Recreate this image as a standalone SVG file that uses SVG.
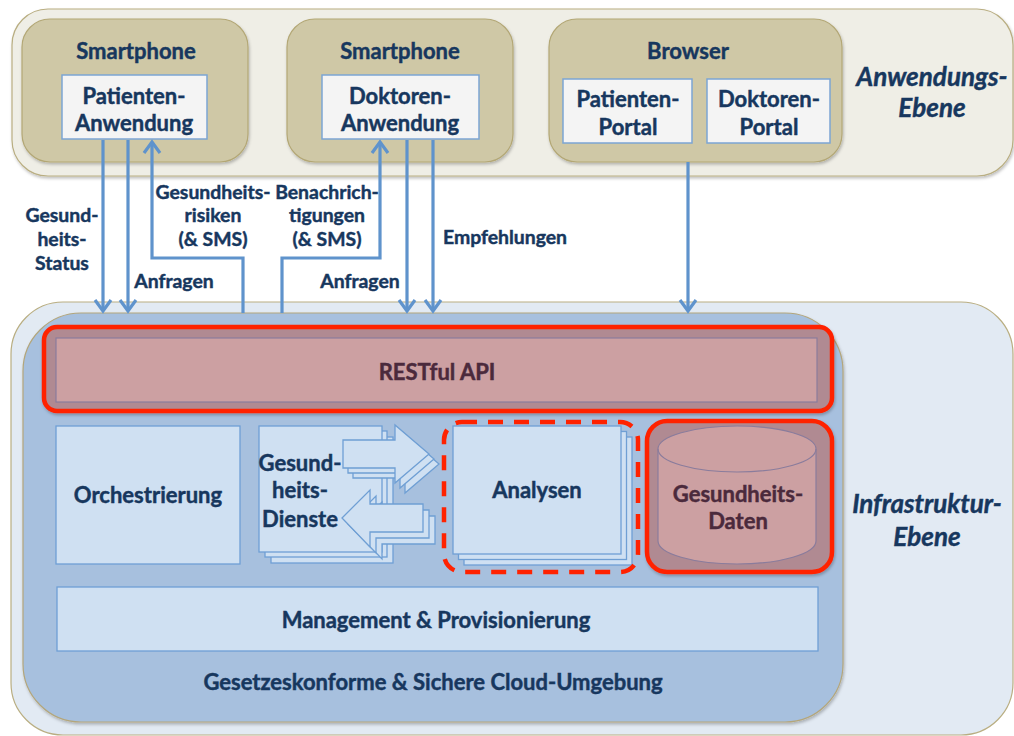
<svg xmlns="http://www.w3.org/2000/svg" width="1014" height="736" viewBox="0 0 1014 736">
  <defs>
    <style>
      .lbl { font-family: Lato, "Open Sans", "Liberation Sans", sans-serif; font-weight: 700; fill: #17375e; stroke: #17375e; stroke-width: 0.45px; text-anchor: middle; }
      .big { font-size: 22px; }
      .small { font-size: 19.4px; }
      .layer { font-size: 26px; font-style: italic; }
      .mauve { fill: #4b2a3c; stroke: #4b2a3c; }
      .panel-top { fill: #efeee6; stroke: #b9ae82; stroke-width: 1.2; }
      .device { fill: #cfc8a6; stroke: #b3a775; stroke-width: 1.2; }
      .app { fill: #f4f4f4; stroke: #7ca5d4; stroke-width: 1.5; }
      .panel-infra { fill: #e2eaf3; stroke: #b9ae82; stroke-width: 1.2; }
      .cloud { fill: #a7c0de; stroke: #b3a67c; stroke-width: 1.2; }
      .svc { fill: #cfe0f2; stroke: #6f9fd4; stroke-width: 1.3; }
      .redframe { fill: #b08a92; stroke: #ff2200; stroke-width: 4.5; }
      .redinner { fill: #cca0a2; stroke: #8a7c9c; stroke-width: 1.2; }
      .dash { fill: none; stroke: #ff2200; stroke-width: 4.5; stroke-dasharray: 15 11; }
      .conn { fill: none; stroke: #5f93cc; stroke-width: 3.2; }
    </style>
    <marker id="chev" markerUnits="userSpaceOnUse" viewBox="-14 -10 17 20" refX="0" refY="0" markerWidth="17" markerHeight="20" orient="auto">
      <path d="M-11,-8 L0,0 L-11,8" fill="none" stroke="#5f93cc" stroke-width="3.2"/>
    </marker>
    <filter id="shadow" x="-5%" y="-5%" width="110%" height="115%">
      <feDropShadow dx="1" dy="2" stdDeviation="1.8" flood-color="#000" flood-opacity="0.25"/>
    </filter>
  </defs>

  <!-- application layer -->
  <g id="anwendungs-ebene">
    <rect class="panel-top" x="12" y="9" width="1001" height="167" rx="36" filter="url(#shadow)"/>
    <text class="lbl layer" x="932" y="86">Anwendungs-</text>
    <text class="lbl layer" x="932" y="117">Ebene</text>
  </g>

  <g id="smartphone-patient">
    <rect class="device" x="22" y="19" width="226" height="143" rx="28" filter="url(#shadow)"/>
    <text class="lbl big" x="136" y="59">Smartphone</text>
  </g>
  <g id="patienten-anwendung">
    <rect class="app" x="62" y="75" width="145" height="64"/>
    <text class="lbl big" x="134" y="104">Patienten-</text>
    <text class="lbl big" x="134" y="131">Anwendung</text>
  </g>

  <g id="smartphone-doktor">
    <rect class="device" x="287" y="19" width="226" height="143" rx="28" filter="url(#shadow)"/>
    <text class="lbl big" x="400" y="59">Smartphone</text>
  </g>
  <g id="doktoren-anwendung">
    <rect class="app" x="322" y="75" width="157" height="64"/>
    <text class="lbl big" x="400" y="104">Doktoren-</text>
    <text class="lbl big" x="400" y="131">Anwendung</text>
  </g>

  <g id="browser">
    <rect class="device" x="549" y="19" width="293" height="143" rx="28" filter="url(#shadow)"/>
    <text class="lbl big" x="688" y="59">Browser</text>
  </g>
  <g id="patienten-portal">
    <rect class="app" x="563" y="79" width="129" height="64"/>
    <text class="lbl big" x="628" y="107">Patienten-</text>
    <text class="lbl big" x="628" y="135">Portal</text>
  </g>
  <g id="doktoren-portal">
    <rect class="app" x="707" y="79" width="123" height="64"/>
    <text class="lbl big" x="769" y="107">Doktoren-</text>
    <text class="lbl big" x="769" y="135">Portal</text>
  </g>

  <!-- infrastructure layer -->
  <g id="infrastruktur-ebene">
    <rect class="panel-infra" x="11" y="302" width="1002" height="433" rx="52"/>
    <text class="lbl layer" x="927" y="513">Infrastruktur-</text>
    <text class="lbl layer" x="927" y="546">Ebene</text>
  </g>

  <g id="cloud-umgebung">
    <rect class="cloud" x="23" y="313" width="820" height="409" rx="58" filter="url(#shadow)"/>
    <text class="lbl big" x="433" y="690">Gesetzeskonforme &amp; Sichere Cloud-Umgebung</text>
  </g>

  <g id="restful-api">
    <rect class="redframe" x="44" y="327" width="788" height="84" rx="13" filter="url(#shadow)"/>
    <rect class="redinner" x="56" y="338" width="761" height="64"/>
    <text class="lbl big mauve" x="437" y="380">RESTful API</text>
  </g>

  <g id="orchestrierung">
    <rect class="svc" x="56" y="426" width="184" height="138"/>
    <text class="lbl big" x="148" y="503">Orchestrierung</text>
  </g>

  <g id="gesundheits-dienste">
    <rect class="svc" x="271" y="437" width="122" height="126"/>
    <rect class="svc" x="265" y="431" width="122" height="126"/>
    <rect class="svc" x="259" y="426" width="123" height="126"/>
    <!-- outgoing arrow, stacked -->
    <polygon class="svc" transform="translate(10,10)" points="343,440 395,440 395,425 429,454 395,483 395,468 343,468"/>
    <polygon class="svc" transform="translate(5,5)" points="343,440 395,440 395,425 429,454 395,483 395,468 343,468"/>
    <polygon class="svc" points="343,440 395,440 395,425 429,454 395,483 395,468 343,468"/>
    <!-- incoming arrow, stacked -->
    <polygon class="svc" transform="translate(12,12)" points="342,518 370,490 370,504 423,504 423,532 370,532 370,547"/>
    <polygon class="svc" transform="translate(6,6)" points="342,518 370,490 370,504 423,504 423,532 370,532 370,547"/>
    <polygon class="svc" points="342,518 370,490 370,504 423,504 423,532 370,532 370,547"/>
    <text class="lbl big" x="300" y="471">Gesund-</text>
    <text class="lbl big" x="300" y="498">heits-</text>
    <text class="lbl big" x="300" y="527">Dienste</text>
  </g>

  <g id="analysen">
    <rect class="svc" x="464" y="437" width="168" height="128"/>
    <rect class="svc" x="458.5" y="431.5" width="168" height="128"/>
    <rect class="svc" x="453" y="426" width="168" height="128"/>
    <text class="lbl big" x="537" y="498">Analysen</text>
    <rect class="dash" x="444" y="422" width="194" height="150" rx="18"/>
  </g>

  <g id="gesundheits-daten">
    <rect class="redframe" x="647" y="421" width="185" height="151" rx="20" filter="url(#shadow)"/>
    <path class="redinner" d="M658,449 L658,541 A79,23 0 0 0 816,541 L816,449 A79,23 0 0 0 658,449 Z"/>
    <path d="M658,449 A79,23 0 0 0 816,449" fill="none" stroke="#8a7c9c" stroke-width="1.2"/>
    <text class="lbl big mauve" x="738" y="502">Gesundheits-</text>
    <text class="lbl big mauve" x="738" y="529">Daten</text>
  </g>

  <g id="management">
    <rect class="svc" x="57" y="587" width="761" height="64"/>
    <text class="lbl big" x="436" y="628">Management &amp; Provisionierung</text>
  </g>

  <!-- connectors between the two layers -->
  <g id="connectors">
    <path class="conn" d="M103,140 L103,311" marker-end="url(#chev)"/>
    <path class="conn" d="M128,140 L128,311" marker-end="url(#chev)"/>
    <path class="conn" d="M243,313 L243,258 L152,258 L152,142" marker-end="url(#chev)"/>
    <path class="conn" d="M282,313 L282,258 L380,258 L380,142" marker-end="url(#chev)"/>
    <path class="conn" d="M407,140 L407,311" marker-end="url(#chev)"/>
    <path class="conn" d="M433,140 L433,311" marker-end="url(#chev)"/>
    <path class="conn" d="M688,162 L688,311" marker-end="url(#chev)"/>

    <text class="lbl small" x="62" y="222">Gesund-</text>
    <text class="lbl small" x="62" y="246">heits-</text>
    <text class="lbl small" x="62" y="270">Status</text>
    <text class="lbl small" x="174" y="288">Anfragen</text>
    <text class="lbl small" x="213" y="199">Gesundheits-</text>
    <text class="lbl small" x="213" y="222">risiken</text>
    <text class="lbl small" x="213" y="246">(&amp; SMS)</text>
    <text class="lbl small" x="327" y="199">Benachrich-</text>
    <text class="lbl small" x="327" y="222">tigungen</text>
    <text class="lbl small" x="327" y="246">(&amp; SMS)</text>
    <text class="lbl small" x="360" y="288">Anfragen</text>
    <text class="lbl small" x="505" y="244">Empfehlungen</text>
  </g>
</svg>
